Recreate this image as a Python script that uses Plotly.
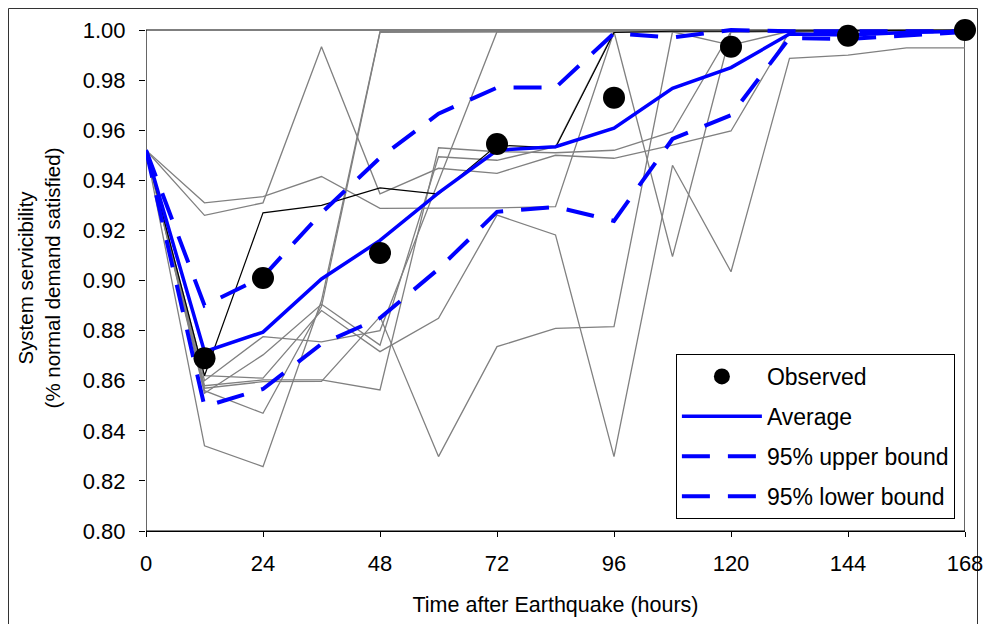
import plotly.graph_objects as go

hours = [0, 12, 24, 36, 48, 60, 72, 84, 96, 108, 120, 132, 144, 156, 168]

observed_hours = [12, 24, 48, 72, 96, 120, 144, 168]
observed = [0.869, 0.901, 0.911, 0.9545, 0.973, 0.9933, 0.9977, 1.000]

average = [0.952, 0.8716, 0.8794, 0.9006, 0.916, 0.935, 0.952, 0.9534, 0.9608,
           0.9767, 0.985, 0.9984, 0.998, 0.999, 0.9995]
upper_bound = [0.952, 0.890, 0.9015, 0.927, 0.949, 0.9666, 0.977, 0.977, 0.9987,
               0.997, 1.000, 0.9995, 0.9995, 0.9995, 0.9995]
lower_bound = [0.952, 0.8497, 0.8567, 0.8747, 0.885, 0.9046, 0.9274, 0.9294, 0.9238,
               0.9565, 0.966, 0.9968, 0.9964, 0.9978, 0.9992]

sim_black = [0.952, 0.862, 0.927, 0.930, 0.937, 0.9345, 0.954, 0.953, 0.999, 0.9995,
             0.9995, 0.9997, 0.9997, 0.9998, 1.0]

sim_a = [0.952, 0.931, 0.9335, 0.9415, 0.9288, 0.9288, 0.929, 0.9295, 0.9993, 0.9993,
         0.994, 0.9995, 0.9996, 0.9997, 0.9998]
sim_b = [0.952, 0.926, 0.931, 0.9933, 0.9346, 0.9448, 0.9428, 0.950, 0.9488, 0.954,
         0.9597, 0.9992, 0.9994, 0.9996, 0.9998]
sim_c = [0.952, 0.834, 0.8257, 0.892, 0.9993, 0.9993, 0.9993, 0.9994, 0.9995, 0.9995,
         0.9995, 0.9996, 0.9996, 0.9997, 0.9998]
sim_d = [0.952, 0.856, 0.847, 0.8896, 0.9991, 0.9992, 0.9992, 0.9993, 0.9994, 0.9994,
         0.9995, 0.9995, 0.9996, 0.9997, 0.9998]
sim_e = [0.952, 0.858, 0.8603, 0.8603, 0.8563, 0.953, 0.9514, 0.951, 0.952, 0.9594,
         0.9993, 0.9994, 0.9995, 0.9996, 0.9997]
sim_f = [0.952, 0.855, 0.8703, 0.8905, 0.8742, 0.9494, 0.948, 0.9534, 0.9993, 0.9993,
         0.9994, 0.9995, 0.9995, 0.9996, 0.9997]
sim_g = [0.952, 0.857, 0.8596, 0.8597, 0.8856, 0.8297, 0.8736, 0.8809, 0.8816, 0.9993,
         0.9994, 0.9995, 0.9995, 0.9996, 0.9997]
sim_h = [0.952, 0.862, 0.861, 0.888, 0.8716, 0.8849, 0.9261, 0.9182, 0.8297, 0.946,
         0.9035, 0.9887, 0.990, 0.9929, 0.9929]
sim_i = [0.952, 0.860, 0.8776, 0.8755, 0.880, 0.9395, 0.9993, 0.9993, 0.9993, 0.9095,
         0.9993, 0.9994, 0.9995, 0.9996, 0.9997]

grey_sims = [sim_a, sim_b, sim_c, sim_d, sim_e, sim_f, sim_g, sim_h, sim_i]

x_ticks = [0, 24, 48, 72, 96, 120, 144, 168]
y_ticks = [0.80, 0.82, 0.84, 0.86, 0.88, 0.90, 0.92, 0.94, 0.96, 0.98, 1.00]

FONT = "Liberation Sans, Arial, sans-serif"
BLUE = "#0000ff"

fig = go.Figure()

for s in grey_sims:
    fig.add_trace(go.Scatter(x=hours, y=s, mode="lines",
                             line=dict(color="#808080", width=1.3),
                             showlegend=False, hoverinfo="skip"))
fig.add_trace(go.Scatter(x=hours, y=sim_black, mode="lines",
                         line=dict(color="#000000", width=1.2),
                         showlegend=False, hoverinfo="skip"))

fig.add_trace(go.Scatter(x=hours, y=average, mode="lines", name="Average",
                         legendgroup="g2", legendrank=2,
                         line=dict(color=BLUE, width=3.5)))
fig.add_trace(go.Scatter(x=hours, y=upper_bound, mode="lines", name="95% upper bound",
                         legendgroup="g3", legendrank=3,
                         line=dict(color=BLUE, width=4, dash="28px,18px")))
fig.add_trace(go.Scatter(x=hours, y=lower_bound, mode="lines", name="95% lower bound",
                         legendgroup="g4", legendrank=4,
                         line=dict(color=BLUE, width=4, dash="28px,18px")))
fig.add_trace(go.Scatter(x=observed_hours, y=observed, mode="markers", name="Observed",
                         legendgroup="g1", legendrank=1,
                         marker=dict(color="black", size=22), cliponaxis=False))

fig.update_layout(
    width=986, height=624,
    margin=dict(l=146, r=21, t=25, b=93),
    paper_bgcolor="white", plot_bgcolor="white",
    font=dict(family=FONT, size=22, color="black"),
    showlegend=True,
    legend=dict(x=0.647, y=0.3498, xanchor="left", yanchor="top",
                bgcolor="white", bordercolor="black", borderwidth=1,
                font=dict(size=23), itemwidth=80, tracegroupgap=7,
                traceorder="grouped"),
    shapes=[
        dict(type="rect", xref="x", yref="y", x0=0, x1=168, y0=0.80, y1=1.00,
             line=dict(color="black", width=1.2), layer="below"),
        dict(type="rect", xref="paper", yref="paper",
             x0=(8.5 - 146) / 819, x1=(977.5 - 146) / 819,
             y0=-0.3, y1=(531 - 8.5) / 506,
             line=dict(color="#333333", width=1), layer="below"),
    ],
)

fig.update_xaxes(range=[0, 168], tickvals=x_ticks, ticktext=[str(v) for v in x_ticks],
                 showgrid=False, zeroline=False, showline=True, linecolor="black",
                 linewidth=1.2, ticks="outside", ticklen=5, tickcolor="black",
                 automargin=False, ticklabelstandoff=7,
                 title=dict(text="Time after Earthquake (hours)", standoff=22,
                            font=dict(size=21.5)),
                 tickfont=dict(size=22))
fig.update_yaxes(range=[0.80, 1.002], tickvals=y_ticks,
                 ticktext=["%.2f" % v for v in y_ticks],
                 showgrid=False, zeroline=False, showline=False,
                 ticks="outside", ticklen=6, tickcolor="black",
                 automargin=False, ticklabelstandoff=9,
                 title=dict(text="System servicibility<br>(% normal demand satisfied)",
                            standoff=16, font=dict(size=20.5)),
                 tickfont=dict(size=22))

fig.write_html("out.html",
               config={"displayModeBar": False},
               post_script="document.body.style.margin='0';"
                           "document.body.style.overflow='hidden';")
